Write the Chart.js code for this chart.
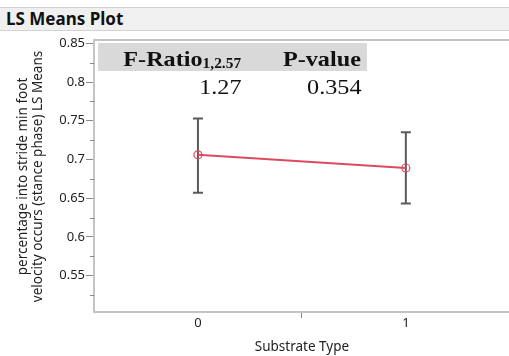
<!DOCTYPE html>
<html>
<head>
<meta charset="utf-8">
<script src="https://cdn.jsdelivr.net/npm/chart.js@4.4.1/dist/chart.umd.min.js"></script>
<style>
  body { margin: 0; background: #fff; }
  #wrap { position: relative; width: 509px; height: 356px; overflow: hidden; }
  #chart { position: absolute; left: 0; top: 0; }
  #titleBar {
    position: absolute; left: 0; top: 7px; width: 509px; height: 24px;
    background: #f0f0f0; border-top: 1px solid #d2d2d2; border-bottom: 1px solid #d2d2d2;
    font: bold 17px "Noto Sans", sans-serif; color: #111; line-height: 22px;
    padding-left: 6px; box-sizing: border-box;
  }
  #statHead {
    position: absolute; left: 98px; top: 43px; width: 269px; height: 28px;
    background: #d9d9d9;
  }
  .cell {
    position: absolute; font-family: "Liberation Serif", "Times New Roman", serif; color: #111;
    white-space: nowrap; text-align: right; transform: scaleX(1.1); transform-origin: right center;
  }
  .head { font-weight: bold; font-size: 22px; top: 46px; }
  .val { font-size: 22px; top: 74px; }
  .head sub { font-size: 14px; vertical-align: -2px; }
</style>
</head>
<body>
<div id="wrap">
  <!-- canvas is a bit wider than the page; the plot's right edge is clipped like in the original -->
  <canvas id="chart" width="515" height="356"></canvas>
  <div id="titleBar">LS Means Plot</div>
  <div id="statHead"></div>
  <div class="cell head" id="fHead" style="right:268px"></div>
  <div class="cell head" id="pHead" style="right:148px"></div>
  <div class="cell val" id="fVal" style="right:268px"></div>
  <div class="cell val" id="pVal" style="right:148px"></div>
</div>
<script>
// ===============================
// Data
// ===============================
var categories = [0, 1];                 // Substrate Type
var lsMeans = [0.706, 0.689];            // LS Means
var upperCI = [0.753, 0.735];            // top of error bar
var lowerCI = [0.657, 0.643];            // bottom of error bar

var yMajorTicks = [0.55, 0.6, 0.65, 0.7, 0.75, 0.8, 0.85];
var yMinorTicks = [0.525, 0.575, 0.625, 0.675, 0.725, 0.775, 0.825];
var xTicks = [0, 0.5, 1];
var xTickLabels = ["0", "", "1"];

// Stats table
var fRatioLabel = "F-Ratio";
var fRatioDf = "1,2.57";
var fRatioValue = "1.27";
var pValueLabel = "P-value";
var pValue = "0.354";

document.getElementById("fHead").innerHTML = fRatioLabel + "<sub>" + fRatioDf + "</sub>";
document.getElementById("pHead").textContent = pValueLabel;
document.getElementById("fVal").textContent = fRatioValue;
document.getElementById("pVal").textContent = pValue;

var axisGray = "#c4c4c4";
var tickFont = { family: "Noto Sans", size: 13 };

// Draws error bars, minor y ticks and the top frame line
var extrasPlugin = {
    id: "extras",
    beforeDatasetsDraw: function(chart) {
        var c = chart.ctx;
        var xs = chart.scales.x;
        var ys = chart.scales.y;
        c.save();
        c.strokeStyle = "#5a5a5a";
        c.lineWidth = 2;
        for (var i = 0; i < categories.length; i++) {
            var px = xs.getPixelForValue(categories[i]);
            var top = ys.getPixelForValue(upperCI[i]);
            var bot = ys.getPixelForValue(lowerCI[i]);
            c.beginPath();
            c.moveTo(px, top); c.lineTo(px, bot);
            c.moveTo(px - 5, top); c.lineTo(px + 5, top);
            c.moveTo(px - 5, bot); c.lineTo(px + 5, bot);
            c.stroke();
        }
        c.restore();
    },
    afterDraw: function(chart) {
        var c = chart.ctx;
        var ys = chart.scales.y;
        var area = chart.chartArea;
        c.save();
        c.strokeStyle = "#888";
        c.lineWidth = 1;
        yMinorTicks.forEach(function(v) {
            var py = Math.round(ys.getPixelForValue(v)) + 0.5;
            c.beginPath();
            c.moveTo(area.left - 4, py); c.lineTo(area.left, py);
            c.stroke();
        });
        c.strokeStyle = axisGray;
        c.lineWidth = 2;
        c.beginPath();
        c.moveTo(area.left - 1, area.top - 1);
        c.lineTo(chart.width, area.top - 1);
        c.stroke();
        c.restore();
    }
};

new Chart(document.getElementById("chart"), {
    type: "line",
    data: {
        datasets: [{
            data: categories.map(function(x, i) { return { x: x, y: lsMeans[i] }; }),
            borderColor: "#dc4a5e",
            borderWidth: 2,
            pointRadius: 4,
            pointBorderWidth: 1.2,
            pointBorderColor: "#dc4a5e",
            pointBackgroundColor: "rgba(255,255,255,0)"
        }]
    },
    options: {
        responsive: false,
        animation: false,
        devicePixelRatio: 1,
        layout: { padding: { top: 41, right: 0, left: 0, bottom: 0 } },
        plugins: { legend: { display: false }, tooltip: { enabled: false } },
        scales: {
            x: {
                type: "linear",
                min: -0.5,
                max: 1.5,
                afterFit: function(s) { s.height = 44; },
                afterBuildTicks: function(s) { s.ticks = xTicks.map(function(v) { return { value: v }; }); },
                ticks: {
                    font: tickFont, color: "#222", padding: -3, maxRotation: 0,
                    callback: function(v, i) { return xTickLabels[i]; }
                },
                grid: {
                    drawOnChartArea: false,
                    tickLength: 6,
                    tickColor: function(ctx) { return ctx.tick && ctx.tick.value === 0.5 ? "#888" : "rgba(0,0,0,0)"; }
                },
                border: { color: axisGray, width: 2 },
                title: {
                    display: true, text: "Substrate Type", color: "#222",
                    font: { family: "Noto Sans", size: 13.5, lineHeight: 1.111 }, padding: { top: 0, bottom: 1.5 }
                }
            },
            y: {
                min: 0.503,
                max: 0.853,
                afterFit: function(s) { s.width = 94; },
                afterBuildTicks: function(s) { s.ticks = yMajorTicks.map(function(v) { return { value: v }; }); },
                ticks: {
                    font: tickFont, color: "#222", padding: 1,
                    callback: function(v) { return String(Math.round(v * 100) / 100); }
                },
                grid: { drawOnChartArea: false, tickLength: 8, tickColor: "#888" },
                border: { color: axisGray, width: 2 },
                title: {
                    display: true,
                    text: ["percentage into stride min foot", "velocity occurs (stance phase) LS Means"],
                    color: "#222",
                    font: { family: "Noto Sans", size: 13.5, lineHeight: 1.111 },
                    padding: { top: 15.5, bottom: 0 }
                }
            }
        }
    },
    plugins: [extrasPlugin]
});
</script>
</body>
</html>
